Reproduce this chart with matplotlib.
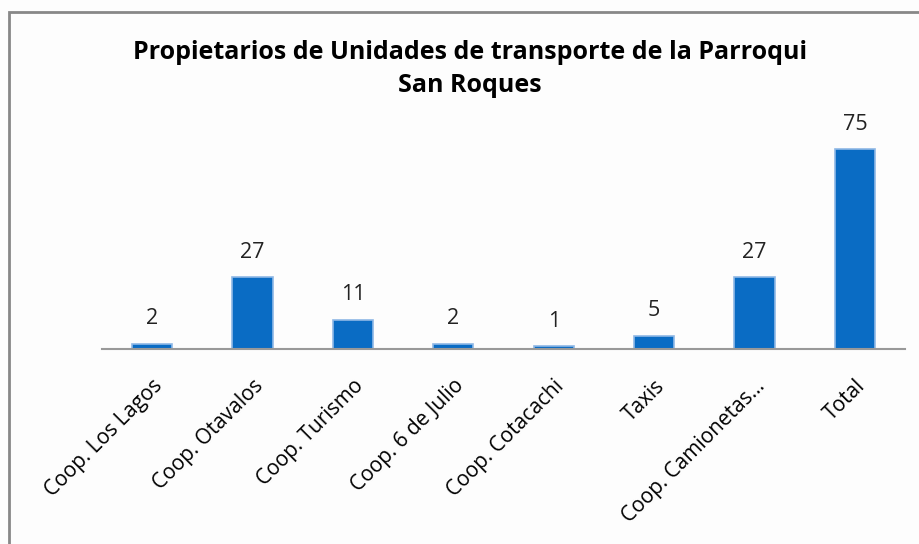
import matplotlib.pyplot as plt
from matplotlib.patches import Rectangle

categorias = ['Coop. Los Lagos', 'Coop. Otavalos', 'Coop. Turismo', 'Coop. 6 de Julio',
              'Coop. Cotacachi', 'Taxis', 'Coop. Camionetas...', 'Total']
valores = [2, 27, 11, 2, 1, 5, 27, 75]
titulo = 'Propietarios de Unidades de transporte de la Parroqui\nSan Roques'

plt.rcParams['font.family'] = ['Open Sans', 'DejaVu Sans']

fig = plt.figure(figsize=(9.19, 5.44), dpi=100)
fig.patch.set_facecolor('#fdfdfd')

# marco del grafico
marco = Rectangle((9 / 919, -0.1), 1.2, 1 - 12 / 544 + 0.1, transform=fig.transFigure,
                  fill=False, edgecolor='#888888', linewidth=2)
fig.add_artist(marco)

ax = fig.add_axes([102 / 919, 1 - 349 / 544, (905 - 102) / 919, 213 / 544])
ax.set_facecolor('none')
x = range(len(categorias))
barras = ax.bar(x, valores, width=0.4, color='#0a6cc4', edgecolor='#8fb8e6', linewidth=1.2)

for xi, v in zip(x, valores):
    ax.text(xi, v + 9.3, str(v), ha='center', va='center', fontsize=15.5, color='#222222')

ax.set_xlim(-0.5, len(categorias) - 0.5)
ax.set_ylim(0, 80)
ax.set_yticks([])
ax.set_xticks(list(x))
ax.set_xticklabels(categorias, rotation=45, ha='right', rotation_mode='anchor', fontsize=15)
ax.tick_params(axis='x', length=0, pad=19)
for lado in ['top', 'right', 'left']:
    ax.spines[lado].set_visible(False)
ax.spines['bottom'].set_color('#999999')
ax.spines['bottom'].set_linewidth(1.5)

fig.text(470 / 919, 1 - 69 / 544, titulo, ha='center', va='center', fontsize=18,
         fontweight='bold', linespacing=1.45)

fig.savefig('out.png', dpi=100, facecolor=fig.get_facecolor())
